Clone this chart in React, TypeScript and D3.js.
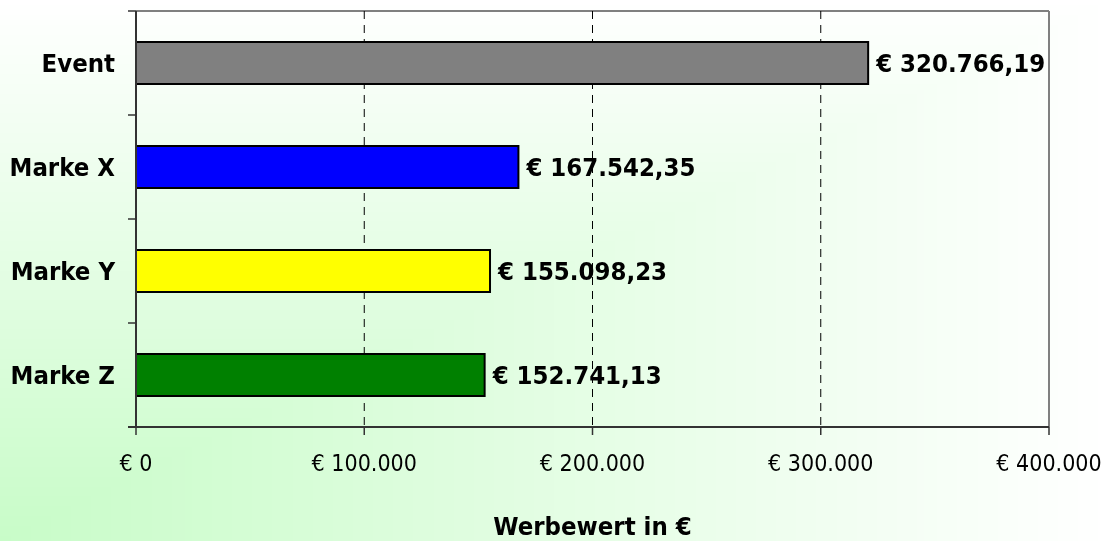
import React, { useEffect, useRef } from "react";
import * as d3 from "d3";

const categories = ["Event", "Marke X", "Marke Y", "Marke Z"];
const values = [320766.19, 167542.35, 155098.23, 152741.13];
const barColors = ["#808080", "#0000ff", "#ffff00", "#008000"];
const xTicks = [0, 100000, 200000, 300000, 400000];
const axisTitle = "Werbewert in €";

const W = 1109;
const H = 541;
const FONT = "'DejaVu Sans Condensed', 'DejaVu Sans', sans-serif";

const fmtInt = (v: number) => "€ " + d3.format(",.0f")(v).replace(/,/g, ".");
const fmtDec = (v: number) => {
  const s = d3.format(",.2f")(v);
  return "€ " + s.replace(/,/g, "#").replace(".", ",").replace(/#/g, ".");
};

function Background() {
  const ref = useRef<HTMLCanvasElement>(null);
  useEffect(() => {
    const cv = ref.current;
    if (!cv) return;
    const ctx = cv.getContext("2d");
    if (!ctx) return;
    const img = ctx.createImageData(W, H);
    const c0 = d3.rgb("#c8fcc8");
    const c1 = d3.rgb("#ffffff");
    for (let y = 0; y < H; y++) {
      for (let x = 0; x < W; x++) {
        const t = Math.max(x / (W - 1), 1 - y / (H - 1));
        const i = (y * W + x) * 4;
        img.data[i] = c0.r + (c1.r - c0.r) * t;
        img.data[i + 1] = c0.g + (c1.g - c0.g) * t;
        img.data[i + 2] = c0.b + (c1.b - c0.b) * t;
        img.data[i + 3] = 255;
      }
    }
    ctx.putImageData(img, 0, 0);
  }, []);
  return (
    <canvas
      ref={ref}
      width={W}
      height={H}
      style={{ position: "absolute", left: 0, top: 0, display: "block" }}
    />
  );
}

export default function App() {
  const left = 136, right = 1049, top = 11, bottom = 427;
  const x = d3.scaleLinear().domain([0, 400000]).range([left, right]);
  const y = d3.scaleBand<string>().domain(categories).range([top, bottom]).padding(0);
  const bw = y.bandwidth();
  const barH = 42;
  const bandEdges = [...categories.map((c) => y(c) as number), bottom];

  return (
    <div style={{ position: "absolute", left: 0, top: 0, width: W, height: H }}>
      <Background />
      <svg
        width={W}
        height={H}
        style={{ position: "absolute", left: 0, top: 0, display: "block" }}
        fontFamily={FONT}
      >
        {/* plot border top/right */}
        <line x1={left} x2={right} y1={top} y2={top} stroke="#808080" strokeWidth={2} />
        <line x1={right} x2={right} y1={top} y2={bottom} stroke="#808080" strokeWidth={2} />

        {/* gridlines */}
        {xTicks.slice(1, -1).map((t) => (
          <line
            key={"g" + t}
            x1={x(t)}
            x2={x(t)}
            y1={top}
            y2={bottom}
            stroke="#000"
            strokeWidth={1}
            strokeDasharray="8,6"
          />
        ))}

        {/* bars */}
        {categories.map((c, i) => (
          <rect
            key={c}
            x={x(0)}
            y={(y(c) as number) + (bw - barH) / 2}
            width={x(values[i]) - x(0)}
            height={barH}
            fill={barColors[i]}
            stroke="#000"
            strokeWidth={2}
          />
        ))}

        {/* axes */}
        <line x1={left} x2={left} y1={top} y2={bottom} stroke="#333" strokeWidth={2} />
        <line x1={left - 8} x2={right} y1={bottom} y2={bottom} stroke="#333" strokeWidth={2} />
        {bandEdges.map((e, i) => (
          <line key={"yt" + i} x1={left - 8} x2={left} y1={e} y2={e} stroke="#333" strokeWidth={1.5} />
        ))}
        {xTicks.map((t) => (
          <line key={"xt" + t} x1={x(t)} x2={x(t)} y1={bottom} y2={bottom + 8} stroke="#333" strokeWidth={1.5} />
        ))}

        {/* category labels */}
        {categories.map((c) => (
          <text
            key={"l" + c}
            x={115}
            y={(y(c) as number) + bw / 2 + 9}
            textAnchor="end"
            fontSize={25.5}
            fontWeight="bold"
            fill="#000"
          >
            {c}
          </text>
        ))}

        {/* value labels */}
        {categories.map((c, i) => (
          <text
            key={"v" + c}
            x={x(values[i]) + 8}
            y={(y(c) as number) + bw / 2 + 9}
            fontSize={25.5}
            fontWeight="bold"
            fill="#000"
          >
            {fmtDec(values[i])}
          </text>
        ))}

        {/* x tick labels */}
        {xTicks.map((t) => (
          <text key={"xl" + t} x={x(t)} y={471} textAnchor="middle" fontSize={23} fill="#000">
            {fmtInt(t)}
          </text>
        ))}

        <text x={(left + right) / 2} y={535} textAnchor="middle" fontSize={25.5} fontWeight="bold" fill="#000">
          {axisTitle}
        </text>
      </svg>
    </div>
  );
}
